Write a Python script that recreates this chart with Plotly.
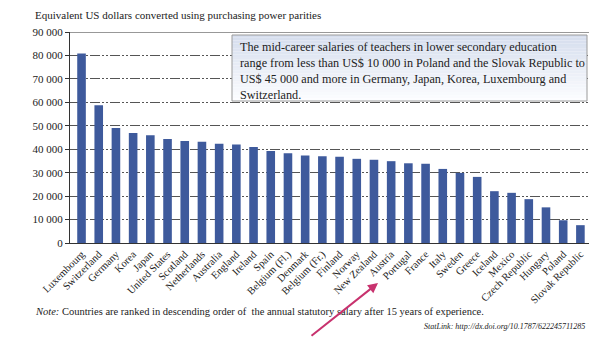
import plotly.graph_objects as go

countries = ["Luxembourg", "Switzerland", "Germany", "Korea", "Japan", "United States",
             "Scotland", "Netherlands", "Australia", "England", "Ireland", "Spain",
             "Belgium (Fl.)", "Denmark", "Belgium (Fr.)", "Finland", "Norway", "New Zealand",
             "Austria", "Portugal", "France", "Italy", "Sweden", "Greece", "Iceland",
             "Mexico", "Czech Republic", "Hungary", "Poland", "Slovak Republic"]
salaries = [80800, 58800, 49000, 46900, 46000, 44400, 43500, 43200, 42300, 42000,
            40900, 39200, 38300, 37300, 37000, 36800, 35900, 35500, 34900, 34000,
            33800, 31600, 29900, 28200, 22100, 21400, 18700, 15200, 9700, 7600]
y_ticks = [0, 10000, 20000, 30000, 40000, 50000, 60000, 70000, 80000, 90000]
y_ticktext = ["0", "10 000", "20 000", "30 000", "40 000", "50 000", "60 000",
              "70 000", "80 000", "90 000"]

W, H = 600, 337
L, R, T, B = 70, 11, 32, 94
PW, PH = W - L - R, H - T - B

def xp(px):
    return (px - L) / PW

def yp(py):
    return (H - B - py) / PH

SERIF = "Liberation Serif"

fig = go.Figure()
fig.add_trace(go.Bar(x=countries, y=salaries, marker=dict(color="#3e5a9c", line=dict(width=0)),
                     width=0.5))

shapes = []
# top solid line at 90 000
shapes.append(dict(type="line", xref="paper", yref="y", x0=0, x1=1, y0=90000, y1=90000,
                   line=dict(color="#333333", width=1.2)))
# gradient box
bx0, bx1, by0, by1 = 232, 587, 35, 101
n = 24
c_top = (214, 222, 238)
c_bot = (252, 253, 255)
for i in range(n):
    t = i / (n - 1)
    c = tuple(int(c_top[k] + (c_bot[k] - c_top[k]) * t) for k in range(3))
    ya = by0 + (by1 - by0) * i / n
    yb = by0 + (by1 - by0) * (i + 1) / n
    shapes.append(dict(type="rect", xref="paper", yref="paper", x0=xp(bx0), x1=xp(bx1),
                       y0=yp(ya), y1=yp(yb), fillcolor="rgb(%d,%d,%d)" % c,
                       line=dict(width=0), layer="above"))
shapes.append(dict(type="rect", xref="paper", yref="paper", x0=xp(bx0), x1=xp(bx1),
                   y0=yp(by0), y1=yp(by1), fillcolor="rgba(0,0,0,0)",
                   line=dict(color="#9a9a9a", width=1), layer="above"))

annotations = [
    dict(text="The mid-career salaries of teachers in lower secondary education<br>"
              "range from less than US$ 10 000 in Poland and the Slovak Republic to<br>"
              "US$ 45 000 and more in Germany, Japan, Korea, Luxembourg and<br>"
              "Switzerland.",
         xref="paper", yref="paper", x=xp(238), y=yp(38), xanchor="left", yanchor="top",
         align="left", showarrow=False, font=dict(family=SERIF, size=12.2, color="#222222")),
    dict(text="Equivalent US dollars converted using purchasing power parities",
         xref="paper", yref="paper", x=xp(33), y=yp(15), xanchor="left", yanchor="middle",
         showarrow=False, font=dict(family=SERIF, size=11, color="#222222")),
    dict(text="<i>Note:</i> Countries are ranked in descending order of  the annual statutory salary after 15 years of experience.",
         xref="paper", yref="paper", x=xp(33), y=yp(311), xanchor="left", yanchor="middle",
         showarrow=False, font=dict(family=SERIF, size=10.5, color="#222222")),
    dict(text="<i>StatLink: http://dx.doi.org/10.1787/622245711285</i>",
         xref="paper", yref="paper", x=xp(587), y=yp(326), xanchor="right", yanchor="middle",
         showarrow=False, font=dict(family=SERIF, size=8, color="#222222")),
    dict(text="", xref="paper", yref="paper", x=xp(378), y=yp(283), ax=-68, ay=56,
         axref="pixel", ayref="pixel", showarrow=True, arrowhead=2, arrowsize=1,
         arrowwidth=2, arrowcolor="#c8326e"),
]

fig.update_layout(
    width=W, height=H, margin=dict(l=L, r=R, t=T, b=B),
    paper_bgcolor="white", plot_bgcolor="white", showlegend=False,
    font=dict(family=SERIF),
    bargap=0.5, shapes=shapes, annotations=annotations,
    xaxis=dict(range=[-0.67, 29.5], tickangle=-45, showline=True, linecolor="#333333",
               linewidth=1, ticks="", showgrid=False,
               tickfont=dict(family=SERIF, size=10.5, color="#222222")),
    yaxis=dict(range=[0, 90000], tickvals=y_ticks, ticktext=y_ticktext, showline=True,
               linecolor="#333333", linewidth=1, ticks="outside", ticklen=4,
               tickcolor="#333333", showgrid=True, gridcolor="#555555", gridwidth=1,
               griddash="10px,2px,2px,2px,2px,2px", zeroline=False,
               tickfont=dict(family=SERIF, size=11, color="#222222")),
)

fig.write_html("out.html")
